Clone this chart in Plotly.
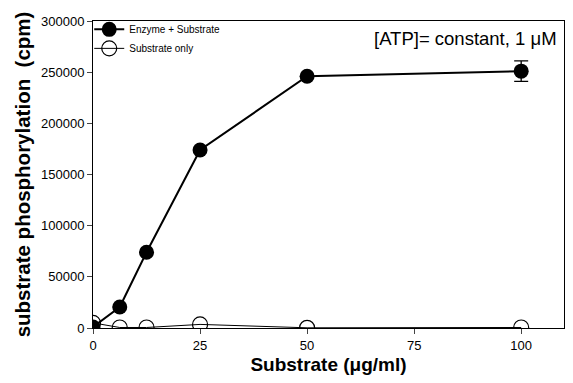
import plotly.graph_objects as go

substrate = [0, 6.25, 12.5, 25, 50, 100]
enzyme_sub = [1000, 20500, 74000, 174000, 246000, 251000]
enzyme_err = [0, 0, 0, 0, 0, 10000]
sub_only = [5000, 500, 500, 3500, 200, 500]

x_ticks = [0, 25, 50, 75, 100]
y_ticks = [0, 50000, 100000, 150000, 200000, 250000, 300000]

fig = go.Figure()
fig.add_trace(go.Scatter(
    x=substrate, y=sub_only, mode="lines+markers", name="Substrate only",
    line=dict(color="black", width=1),
    marker=dict(symbol="circle-open", size=15, color="black", line=dict(width=1.2)),
))
fig.add_trace(go.Scatter(
    x=substrate, y=enzyme_sub, mode="lines+markers", name="Enzyme + Substrate",
    line=dict(color="black", width=2),
    marker=dict(symbol="circle", size=15, color="black"),
    error_y=dict(type="data", array=enzyme_err, color="black", thickness=1.3, width=7),
))

# page body has an 8px margin, so the figure is sized/offset to compensate
fig.update_layout(
    width=565, height=375,
    margin=dict(l=85, r=9, t=7, b=55),
    plot_bgcolor="white", paper_bgcolor="white",
    font=dict(family="Liberation Sans, Arial", color="black", size=12),
    legend=dict(x=-0.008, y=1.02, xanchor="left", yanchor="top",
                font=dict(size=10), traceorder="reversed",
                bgcolor="rgba(0,0,0,0)", itemwidth=30, tracegroupgap=0),
    showlegend=True,
    annotations=[dict(text="[ATP]= constant, 1 μM", xref="paper", yref="paper",
                      x=0.99, y=0.985, xanchor="right", yanchor="top",
                      showarrow=False, font=dict(size=18.5))],
)
fig.update_xaxes(
    range=[0, 110], tickvals=x_ticks, ticks="outside", ticklen=5, tickwidth=1,
    showline=True, linecolor="black", linewidth=1, mirror=True, showgrid=False,
    zeroline=False, tickfont=dict(size=13), automargin=False,
    title=dict(text="<b>Substrate (μg/ml)</b>", font=dict(size=19), standoff=6),
)
fig.update_yaxes(
    range=[0, 300000], tickvals=y_ticks, ticks="outside", ticklen=5, tickwidth=1,
    showline=True, linecolor="black", linewidth=1, mirror=True, showgrid=False,
    zeroline=False, tickfont=dict(size=13), tickformat="d", automargin=False,
    title=dict(text="<b>substrate phosphorylation  (cpm)</b>", font=dict(size=20.5), standoff=4),
)
fig.write_html("out.html")
